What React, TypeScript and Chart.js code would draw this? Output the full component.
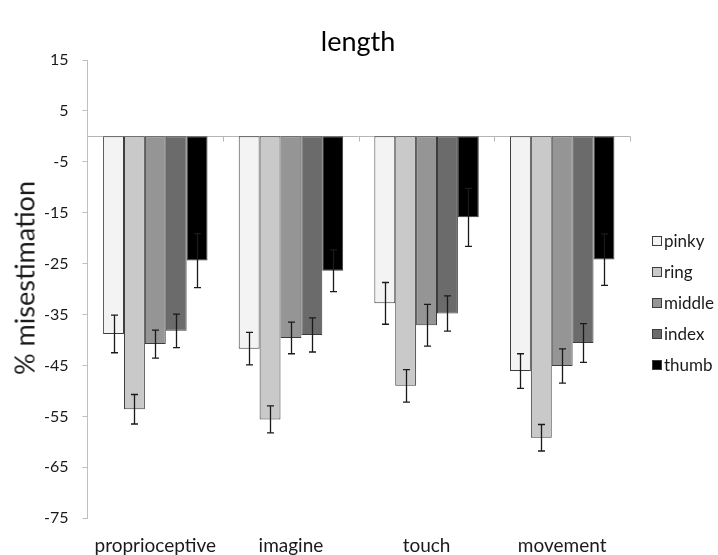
import React, { useEffect, useRef } from "react";
import { Chart, registerables } from "chart.js";

Chart.register(...registerables);

// Conditions along the x axis
const conditions = ["proprioceptive", "imagine", "touch", "movement"];

// Finger series names and fills
const fingers = ["pinky", "ring", "middle", "index", "thumb"];
const fills = ["#f3f3f3", "#c9c9c9", "#959595", "#6b6b6b", "#000000"];

// Mean % misestimation per finger, one value per condition
const pinky = [-38.8, -41.7, -32.8, -46.1];
const ring = [-53.6, -55.6, -49.0, -59.2];
const middle = [-40.8, -39.6, -37.1, -45.1];
const index = [-38.2, -39.0, -34.8, -40.6];
const thumb = [-24.4, -26.4, -15.9, -24.2];

// Standard errors for each finger/condition
const pinkyErr = [3.7, 3.2, 4.1, 3.4];
const ringErr = [2.9, 2.65, 3.2, 2.6];
const middleErr = [2.75, 3.1, 4.1, 3.35];
const indexErr = [3.3, 3.35, 3.45, 3.8];
const thumbErr = [5.3, 4.1, 5.7, 5.05];

// Y axis range and step
const yMin = -75;
const yMax = 15;
const yStep = 10;

const chartTitle = "length";
const yTitle = "% misestimation";

const FONT = "Lato, 'Open Sans', sans-serif";
const BORDER = "#3c3c3c";

const seriesValues = [pinky, ring, middle, index, thumb];
const errorSets = [pinkyErr, ringErr, middleErr, indexErr, thumbErr];

// Horizontal axis line at zero with small tick marks between the categories
const zeroLinePlugin = {
  id: "zeroLine",
  beforeDatasetsDraw(chart: any) {
    const { ctx, chartArea, scales } = chart;
    const y = Math.round(scales.y.getPixelForValue(0)) + 0.5;
    ctx.save();
    ctx.strokeStyle = "#b5b5b5";
    ctx.lineWidth = 1;
    ctx.beginPath();
    ctx.moveTo(chartArea.left, y);
    ctx.lineTo(chartArea.right, y);
    const xs = scales.x;
    for (let i = 0; i < conditions.length; i++) {
      const mid =
        i < conditions.length - 1
          ? (xs.getPixelForValue(i) + xs.getPixelForValue(i + 1)) / 2
          : chartArea.right;
      const px = Math.round(mid) + 0.5;
      ctx.moveTo(px, y);
      ctx.lineTo(px, y + 5);
    }
    ctx.stroke();
    ctx.restore();
  },
};

// Error bars with caps, drawn on top of the bars
const errorBarPlugin = {
  id: "errorBars",
  afterDatasetsDraw(chart: any) {
    const { ctx, scales } = chart;
    ctx.save();
    ctx.strokeStyle = "#1a1a1a";
    ctx.lineWidth = 1.3;
    chart.data.datasets.forEach((ds: any, di: number) => {
      const meta = chart.getDatasetMeta(di);
      const errs = errorSets[di];
      meta.data.forEach((bar: any, i: number) => {
        const v = ds.data[i];
        const e = errs[i];
        const x = Math.round(bar.x) + 0.5;
        const yTop = scales.y.getPixelForValue(v + e);
        const yBot = scales.y.getPixelForValue(v - e);
        const cap = 3.5;
        ctx.beginPath();
        ctx.moveTo(x, yTop);
        ctx.lineTo(x, yBot);
        ctx.moveTo(x - cap, yTop);
        ctx.lineTo(x + cap, yTop);
        ctx.moveTo(x - cap, yBot);
        ctx.lineTo(x + cap, yBot);
        ctx.stroke();
      });
    });
    ctx.restore();
  },
};

function Legend() {
  return (
    <div
      style={{
        position: "absolute",
        left: 652,
        top: 231,
        fontFamily: FONT,
        fontSize: 17,
        color: "#1a1a1a",
      }}
    >
      {fingers.map((name, i) => (
        <div
          key={name}
          style={{
            display: "flex",
            alignItems: "center",
            height: 20,
            marginBottom: 11,
          }}
        >
          <span
            style={{
              display: "inline-block",
              width: 8,
              height: 8,
              background: fills[i],
              border: `1px solid ${BORDER}`,
              marginRight: 2,
            }}
          />
          <span style={{ lineHeight: "20px" }}>{name}</span>
        </div>
      ))}
    </div>
  );
}

export default function App() {
  const canvasRef = useRef<HTMLCanvasElement | null>(null);

  useEffect(() => {
    if (!canvasRef.current) return;
    const chart = new Chart(canvasRef.current, {
      type: "bar",
      data: {
        labels: conditions,
        datasets: fingers.map((name, i) => ({
          label: name,
          data: seriesValues[i],
          backgroundColor: fills[i],
          borderColor: BORDER,
          borderWidth: 1,
          borderSkipped: false as const,
        })),
      },
      options: {
        animation: false,
        responsive: false,
        datasets: {
          bar: { categoryPercentage: 0.77, barPercentage: 1 },
        },
        layout: { padding: { left: 30, right: 88, top: 60, bottom: -18 } },
        plugins: {
          title: { display: false },
          legend: { display: false },
          tooltip: { enabled: false },
        },
        scales: {
          x: {
            grid: { display: false, drawTicks: false },
            border: { display: false },
            ticks: {
              color: "#1a1a1a",
              font: { family: FONT, size: 19 },
              padding: 16,
            },
          },
          y: {
            min: yMin,
            max: yMax,
            ticks: {
              stepSize: yStep,
              color: "#1a1a1a",
              font: { family: FONT, size: 16 },
              padding: 14,
            },
            grid: {
              drawOnChartArea: false,
              drawTicks: true,
              tickLength: 5,
              color: "#bfbfbf",
            },
            border: { display: true, color: "#bfbfbf" },
          },
        },
      },
      plugins: [zeroLinePlugin, errorBarPlugin],
    });
    return () => chart.destroy();
  }, []);

  return (
    <div
      style={{
        position: "absolute",
        left: 0,
        top: 0,
        width: 718,
        height: 555,
        background: "#fff",
      }}
    >
      <canvas ref={canvasRef} width={718} height={555} />
      <div
        style={{
          position: "absolute",
          left: 358,
          top: 40,
          transform: "translate(-50%, -50%)",
          fontFamily: FONT,
          fontSize: 27,
          color: "#000",
          whiteSpace: "nowrap",
        }}
      >
        {chartTitle}
      </div>
      <div
        style={{
          position: "absolute",
          left: 24,
          top: 278,
          transform: "translate(-50%, -50%) rotate(-90deg)",
          fontFamily: FONT,
          fontSize: 27,
          color: "#1a1a1a",
          whiteSpace: "nowrap",
        }}
      >
        {yTitle}
      </div>
      <Legend />
    </div>
  );
}
